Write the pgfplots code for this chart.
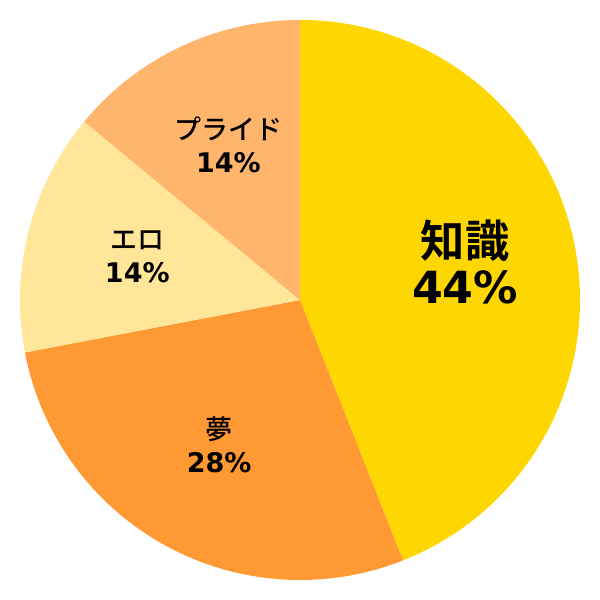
\documentclass[border=0pt]{standalone}
\usepackage{pgfplots}
\usepackage{pgfplotstable}
\pgfplotsset{compat=1.18}
\usepackage{fontspec}
\setmainfont{DejaVu Sans}
\newfontfamily\jp{Noto Sans CJK JP Medium}
\newfontfamily\jpb{Noto Sans CJK JP Bold}

\definecolor{cA}{HTML}{FFD700}
\definecolor{cB}{HTML}{FF9933}
\definecolor{cC}{HTML}{FFE699}
\definecolor{cD}{HTML}{FFB56C}

% slices, clockwise from 12 o'clock
\pgfplotstableread{
pct
44
28
14
14
}\piedata

\begin{document}
\begin{tikzpicture}
\begin{axis}[
  x=4.6667cm, y=4.6667cm,
  xmin=-1.0714, xmax=1.0714, ymin=-1.0714, ymax=1.0714,
  hide axis, clip=false,
]
\path (axis cs:-1.0714,-1.0714) rectangle (axis cs:1.0714,1.0714);
\pgfplotstablegetelem{0}{pct}\of\piedata \let\pA\pgfplotsretval
\pgfplotstablegetelem{1}{pct}\of\piedata \let\pB\pgfplotsretval
\pgfplotstablegetelem{2}{pct}\of\piedata \let\pC\pgfplotsretval
\pgfplotstablegetelem{3}{pct}\of\piedata \let\pD\pgfplotsretval
\pgfmathsetmacro\aA{90}
\pgfmathsetmacro\aB{\aA-3.6*\pA}
\pgfmathsetmacro\aC{\aB-3.6*\pB}
\pgfmathsetmacro\aD{\aC-3.6*\pC}
\pgfmathsetmacro\aE{\aD-3.6*\pD}
\fill[cA] (axis cs:0,0) -- (axis cs:{cos(\aA)},{sin(\aA)}) arc[start angle=\aA, end angle=\aB, radius=4.6667cm] -- cycle;
\fill[cB] (axis cs:0,0) -- (axis cs:{cos(\aB)},{sin(\aB)}) arc[start angle=\aB, end angle=\aC, radius=4.6667cm] -- cycle;
\fill[cC] (axis cs:0,0) -- (axis cs:{cos(\aC)},{sin(\aC)}) arc[start angle=\aC, end angle=\aD, radius=4.6667cm] -- cycle;
\fill[cD] (axis cs:0,0) -- (axis cs:{cos(\aD)},{sin(\aD)}) arc[start angle=\aD, end angle=\aE, radius=4.6667cm] -- cycle;
\pgfmathsetmacro\mA{(\aA+\aB)/2}
\pgfmathsetmacro\mB{(\aB+\aC)/2}
\pgfmathsetmacro\mC{(\aC+\aD)/2}
\pgfmathsetmacro\mD{(\aD+\aE)/2}
\node[align=center, inner sep=0pt, font=\fontsize{21}{22}\selectfont]
  at (axis cs:{0.6*cos(\mA)},{0.6*sin(\mA)+0.023}) {{\jpb 知識}\\\textbf{\pA\%}};
\node[align=center, inner sep=0pt, font=\fontsize{12.8}{15.5}\selectfont]
  at (axis cs:{0.6*cos(\mB)},{0.6*sin(\mB)+0.008}) {{\jp 夢}\\\textbf{\pB\%}};
\node[align=center, inner sep=0pt, font=\fontsize{12.8}{15.5}\selectfont]
  at (axis cs:{0.6*cos(\mC)},{0.6*sin(\mC)+0.004}) {{\jp エロ}\\\textbf{\pC\%}};
\node[align=center, inner sep=0pt, font=\fontsize{12.8}{15.5}\selectfont]
  at (axis cs:{0.6*cos(\mD)},{0.6*sin(\mD)+0.012}) {{\jp プライド}\\\textbf{\pD\%}};
\end{axis}
\end{tikzpicture}
\end{document}
